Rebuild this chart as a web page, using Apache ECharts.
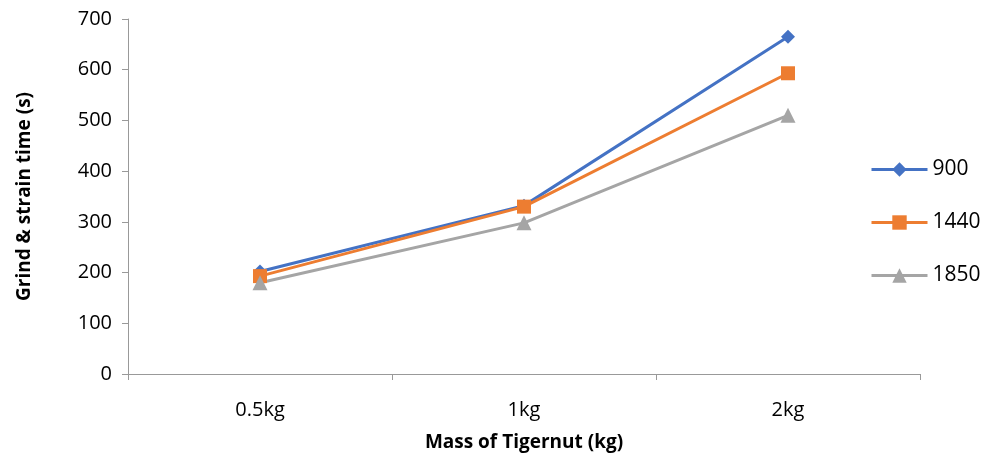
<!DOCTYPE html>
<html><head><meta charset="utf-8">
<script src="https://cdn.jsdelivr.net/npm/echarts@6/dist/echarts.min.js"></script>
<style>html,body{margin:0;padding:0;background:#fff}#c{width:985px;height:459px}</style>
</head><body><div id="c"></div>
<script>
const categories = ['0.5kg', '1kg', '2kg'];
const s900 = [202, 332, 665];
const s1440 = [193, 330, 593];
const s1850 = [180, 298, 510];
const seriesNames = ['900', '1440', '1850'];
const yTicks = {min: 0, max: 700, interval: 100};

const F = 'Open Sans, Liberation Sans, sans-serif';
const chart = echarts.init(document.getElementById('c'));
function mk(name, data, color, symbol, size) {
  return {name, type: 'line', data, symbol, symbolSize: size,
    lineStyle: {color, width: 3}, itemStyle: {color}, color};
}
chart.setOption({
  animation: false,
  textStyle: {fontFamily: F},
  grid: {left: 128, right: 65, top: 19, bottom: 85},
  legend: {
    orient: 'vertical', left: 865, top: 154, itemGap: 32,
    itemWidth: 56, itemHeight: 18,
    lineStyle: {width: 3},
    textStyle: {fontSize: 21, color: '#000', fontFamily: F},
    data: seriesNames
  },
  xAxis: {
    type: 'category', data: categories, boundaryGap: true,
    name: 'Mass of Tigernut (kg)', nameLocation: 'middle', nameGap: 59,
    nameTextStyle: {fontSize: 19, fontWeight: 'bold', color: '#000', fontFamily: F},
    axisLine: {lineStyle: {color: '#999', width: 1}},
    axisTick: {show: true, inside: false, length: 6, alignWithLabel: false, lineStyle: {color: '#999'}},
    axisLabel: {fontSize: 20, color: '#000', margin: 26, fontFamily: F}
  },
  yAxis: {
    type: 'value', min: yTicks.min, max: yTicks.max, interval: yTicks.interval,
    name: 'Grind & strain time (s)', nameLocation: 'middle', nameGap: 94,
    nameTextStyle: {fontSize: 19, fontWeight: 'bold', color: '#000', fontFamily: F},
    axisLine: {show: true, lineStyle: {color: '#999', width: 1}},
    axisTick: {show: true, inside: false, length: 6, lineStyle: {color: '#999'}},
    splitLine: {show: false},
    axisLabel: {fontSize: 20, color: '#000', margin: 16, fontFamily: F}
  },
  series: [
    mk('900', s900, '#4472C4', 'diamond', 14),
    mk('1440', s1440, '#ED7D31', 'rect', 14),
    mk('1850', s1850, '#A5A5A5', 'triangle', 15)
  ]
});
</script></body></html>
